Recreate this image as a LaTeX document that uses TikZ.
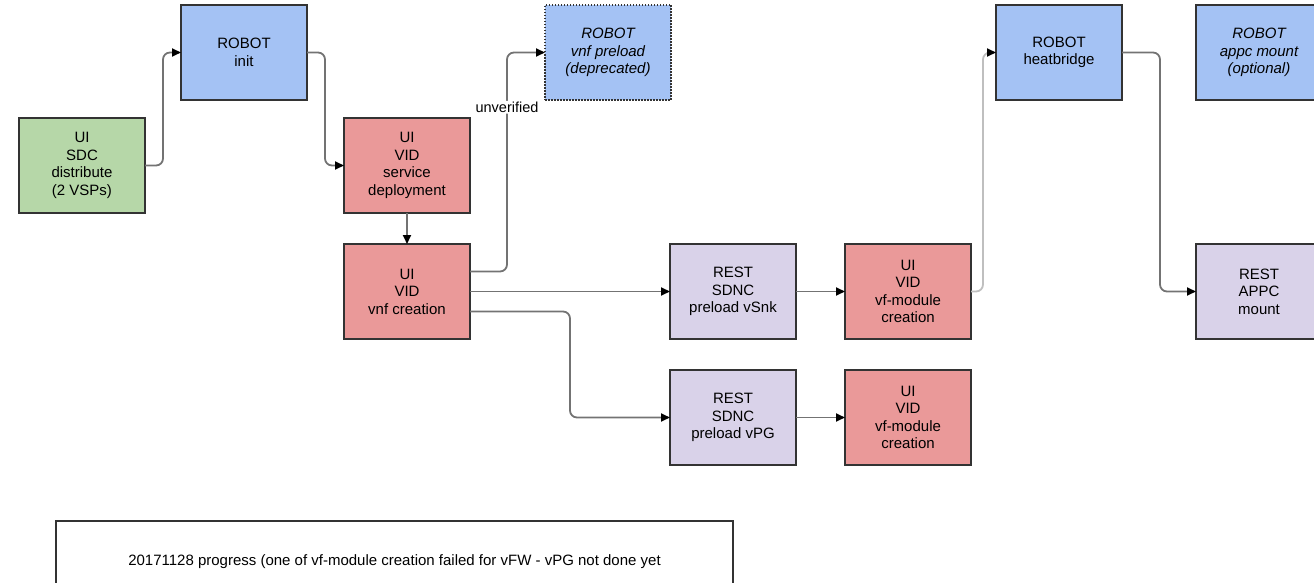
\documentclass[tikz,border=0pt]{standalone}
\usepackage{fontspec}
\setmainfont{Liberation Sans}
\usetikzlibrary{positioning}
\usetikzlibrary{arrows.meta}
\definecolor{robotblue}{HTML}{A4C2F4}
\definecolor{sdcgreen}{HTML}{B6D7A8}
\definecolor{vidred}{HTML}{EA9999}
\definecolor{restlilac}{HTML}{D9D2E9}
\tikzset{%
    box/.style={rectangle, draw={black!80}, line width=1.7pt, outer sep=0pt, minimum width=126pt, minimum height=95pt, align=center, inner sep=2pt, font=\fontsize{15}{17.5}\selectfont},
    robot/.style={box, fill=robotblue},
    sdc/.style={box, fill=sdcgreen},
    vid/.style={box, fill=vidred},
    rest/.style={box, fill=restlilac},
    arrow/.style={draw={black!55}, line width=1.8pt, rounded corners=7pt, -{Triangle[length=9pt,width=8pt,black]}}
}

\begin{document}
\begin{tikzpicture}[x=1pt,y=-1pt]
		\useasboundingbox (0,0) rectangle (1314,583);
		\clip (0,0) rectangle (1314,583);

		\node[sdc]                     (sdc)        at (82,165.5)                        {UI\\SDC\\distribute\\(2 VSPs)};
		\node[robot]                   (init)       [above right=18pt and 36pt of sdc]   {ROBOT\\init};
		\node[vid]                     (svcdeploy)  [below right=18pt and 37pt of init]  {UI\\VID\\service\\deployment};
		\node[vid]                     (vnfcreate)  [below=31pt of svcdeploy]            {UI\\VID\\vnf creation};
		\node[robot,dash pattern=on 1.5pt off 1.5pt] (preload) [above right=18pt and 75pt of svcdeploy] {\itshape ROBOT\\\itshape vnf preload\\\itshape (deprecated)};
		\node[rest]                    (vsnk)       [right=200pt of vnfcreate]           {REST\\SDNC\\preload vSnk};
		\node[rest]                    (vpg)        [below=31pt of vsnk]                 {REST\\SDNC\\preload vPG};
		\node[vid]                     (vfmodsnk)   [right=49pt of vsnk]                 {UI\\VID\\vf-module\\creation};
		\node[vid]                     (vfmodpg)    [right=49pt of vpg]                  {UI\\VID\\vf-module\\creation};
		\node[robot]                   (heatbridge) [above right=144pt and 25pt of vfmodsnk] {ROBOT\\heatbridge};
		\node[robot]                   (appcrobot)  [right=74pt of heatbridge]           {\itshape ROBOT\\\itshape appc mount\\\itshape (optional)};
		\node[rest]                    (appcmount)  [below=144pt of appcrobot]           {REST\\APPC\\mount};

		\node[draw={black!80}, line width=1.5pt, minimum width=677pt, minimum height=81pt, font=\fontsize{15}{17}\selectfont]
		                               (progress)   at (394.5,561.5)
		                               {20171128 progress (one of vf-module creation failed for vFW - vPG not done yet};

		\draw[arrow] (sdc.east) -- ++(18pt,0) |- (init.west);
		\draw[arrow] (init.east) -- ++(18pt,0) |- (svcdeploy.west);
		\draw[arrow] (svcdeploy.south) -- (vnfcreate.north);
		\draw[arrow] ([yshift=20pt]vnfcreate.east) -- ++(37pt,0) |- (preload.west)
		             node[pos=0.375, fill=white, inner sep=1pt, font=\fontsize{14.5}{16}\selectfont] {unverified};
		\draw[arrow] (vnfcreate.east) -- (vsnk.west);
		\draw[arrow] ([yshift=-20pt]vnfcreate.east) -- ++(100pt,0) |- (vpg.west);
		\draw[arrow] (vsnk.east) -- (vfmodsnk.west);
		\draw[arrow] (vpg.east) -- (vfmodpg.west);
		\draw[arrow, draw={black!25}] (vfmodsnk.east) -- ++(12pt,0) |- (heatbridge.west);
		\draw[arrow] (heatbridge.east) -- ++(38pt,0) |- (appcmount.west);
	\end{tikzpicture}
\end{document}
